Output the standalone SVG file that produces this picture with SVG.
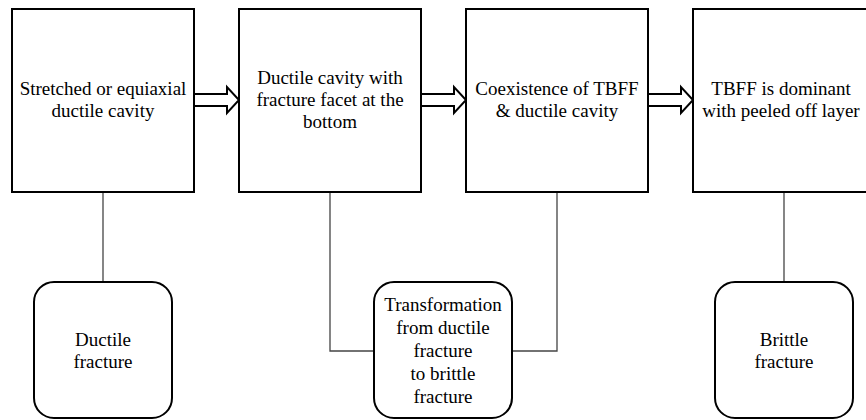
<svg xmlns="http://www.w3.org/2000/svg" width="866" height="420" viewBox="0 0 866 420">
<style>
.box{fill:#fff;stroke:#000;stroke-width:2}
.rbox{fill:#fff;stroke:#000;stroke-width:2}
.arrow{fill:#fff;stroke:#000;stroke-width:2;stroke-linejoin:miter}
.conn{fill:none;stroke:#444;stroke-width:1.3}
text{font-family:"Liberation Serif","Times New Roman",serif;font-size:19px;fill:#000;text-anchor:middle}
</style>
<rect width="866" height="420" fill="#fff"/>
<g id="connectors">
<path class="conn" d="M103,192 V282"/>
<path class="conn" d="M330,192 V351 H374"/>
<path class="conn" d="M557,192 V351 H512"/>
<path class="conn" d="M784,192 V282"/>
</g>
<g id="arrows">
<path class="arrow" d="M194,94 H227 V87 L239,100 L227,113 V106 H194"/>
<path class="arrow" d="M421,94 H454 V87 L466,100 L454,113 V106 H421"/>
<path class="arrow" d="M648,94 H681 V87 L693,100 L681,113 V106 H648"/>
</g>
<g id="box1">
<rect class="box" x="12" y="9" width="182" height="183"/>
<text x="103" y="95">Stretched or equiaxial</text>
<text x="103" y="117">ductile cavity</text>
</g>
<g id="box2">
<rect class="box" x="239" y="9" width="182" height="183"/>
<text x="330" y="84">Ductile cavity with</text>
<text x="330" y="106">fracture facet at the</text>
<text x="330" y="128">bottom</text>
</g>
<g id="box3">
<rect class="box" x="466" y="9" width="182" height="183"/>
<text x="557" y="95">Coexistence of TBFF</text>
<text x="557" y="117">&amp; ductile cavity</text>
</g>
<g id="box4">
<rect class="box" x="693" y="9" width="182" height="183"/>
<text x="781" y="95">TBFF is dominant</text>
<text x="781" y="117">with peeled off layer</text>
</g>
<g id="ductile">
<rect class="rbox" x="34" y="282" width="138" height="136" rx="20" ry="20"/>
<text x="103" y="346">Ductile</text>
<text x="103" y="368">fracture</text>
</g>
<g id="transformation">
<rect class="rbox" x="374" y="282" width="138" height="136" rx="20" ry="20"/>
<text x="443" y="311">Transformation</text>
<text x="443" y="334">from ductile</text>
<text x="443" y="357">fracture</text>
<text x="443" y="380">to brittle</text>
<text x="443" y="403">fracture</text>
</g>
<g id="brittle">
<rect class="rbox" x="715" y="282" width="138" height="136" rx="20" ry="20"/>
<text x="784" y="346">Brittle</text>
<text x="784" y="368">fracture</text>
</g>
</svg>
